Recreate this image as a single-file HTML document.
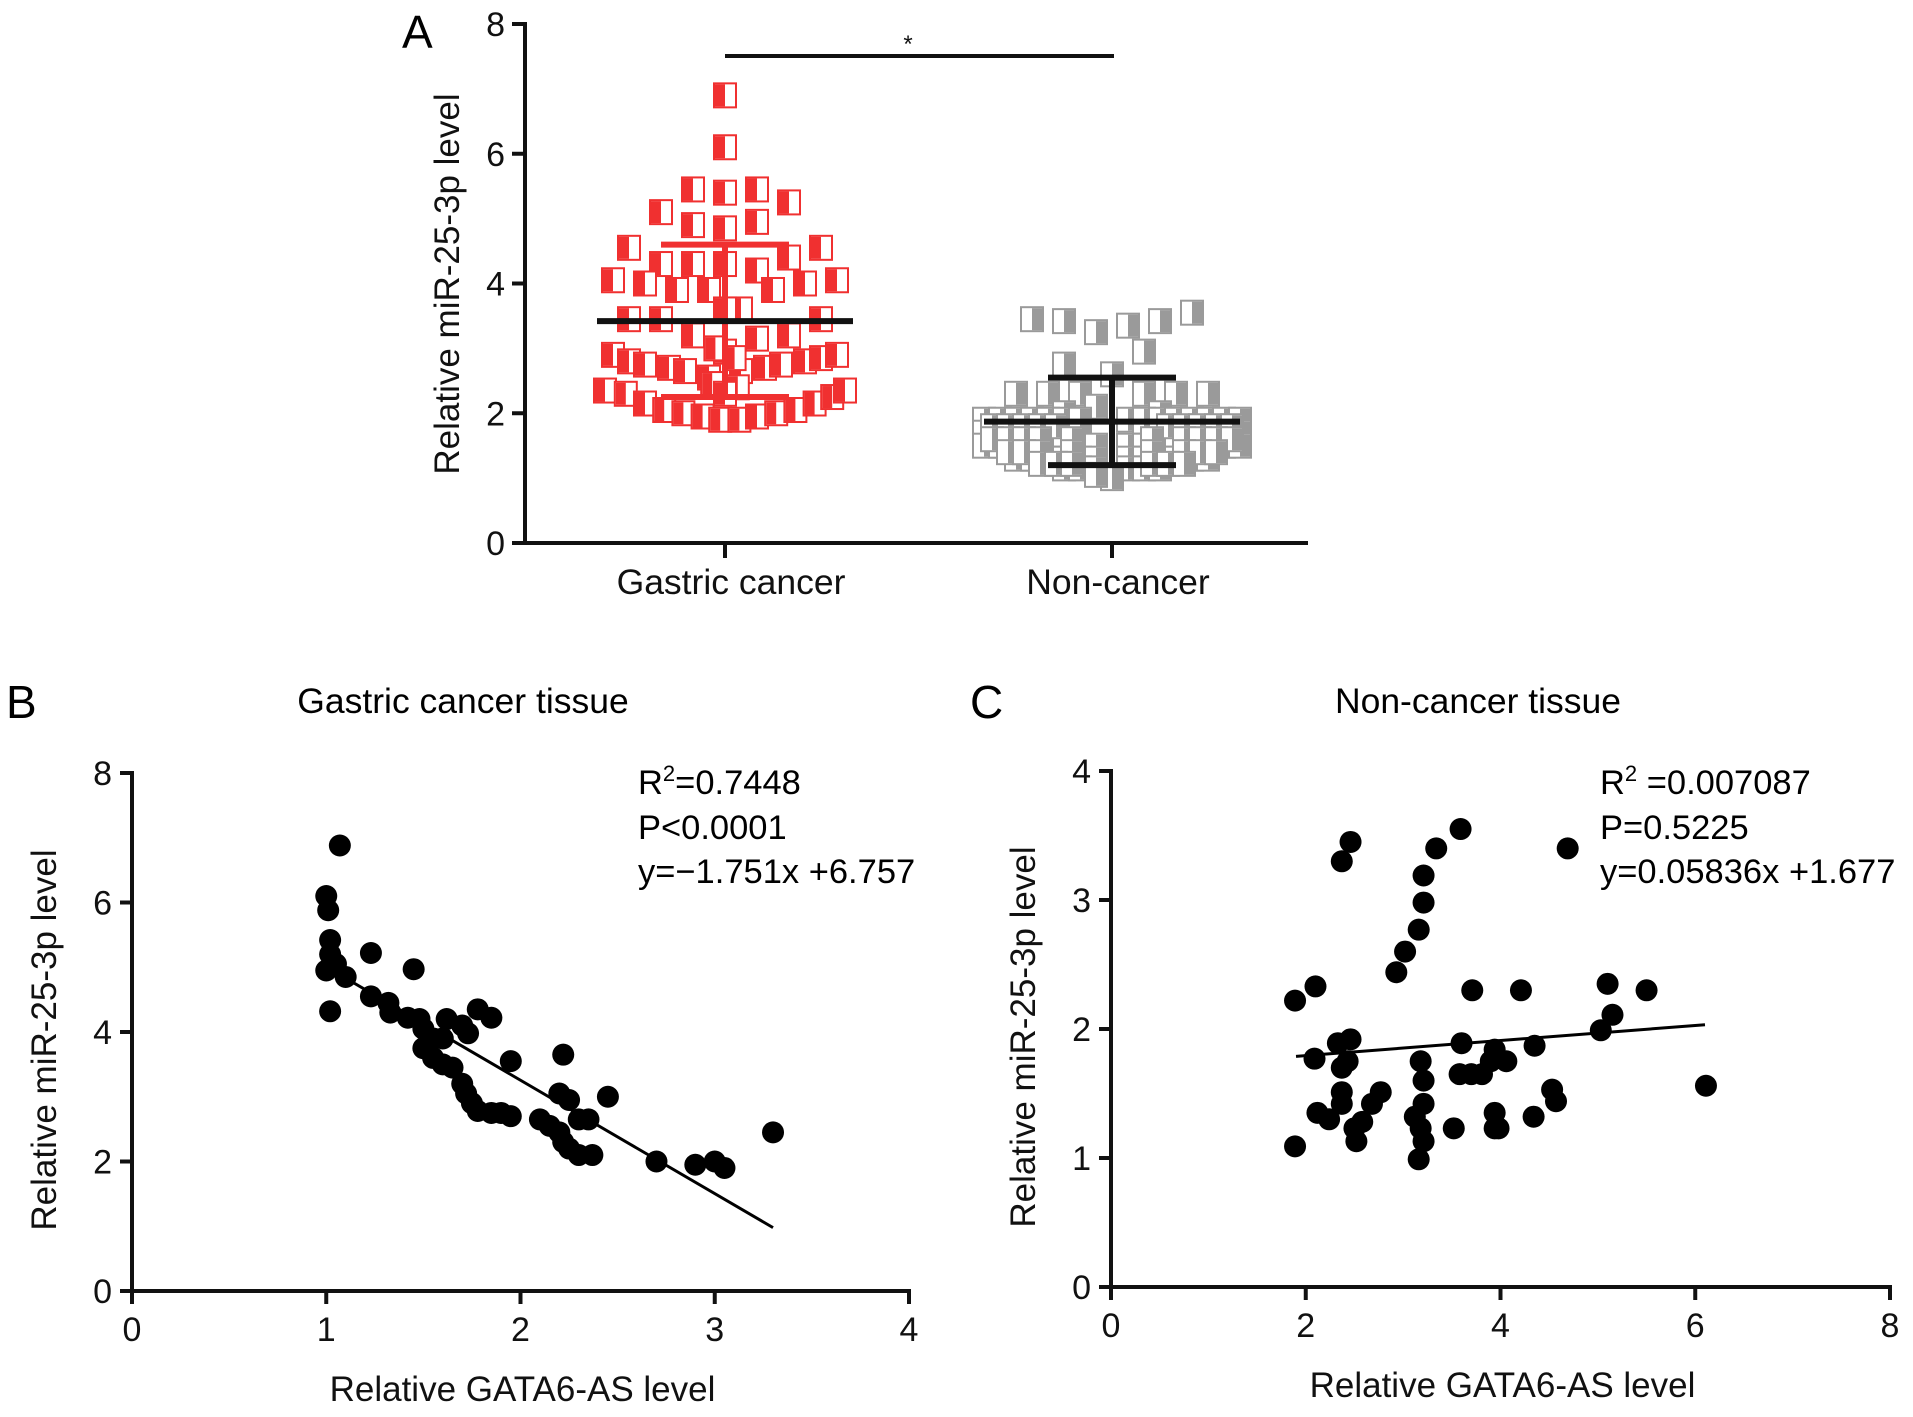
<!DOCTYPE html>
<html><head><meta charset="utf-8"><style>
html,body{margin:0;padding:0;background:#fff;}
svg{display:block;font-family:"Liberation Sans",Arial,sans-serif;}
</style></head><body>
<svg id="fig" width="1913" height="1417" viewBox="0 0 1913 1417" xmlns="http://www.w3.org/2000/svg">
<text x="402" y="48" font-size="46">A</text>
<text x="6" y="718" font-size="46">B</text>
<text x="970" y="718" font-size="46">C</text>
<text x="463" y="713" font-size="35.5" text-anchor="middle">Gastric cancer tissue</text>
<text x="1478" y="713" font-size="35.5" text-anchor="middle">Non-cancer tissue</text>
<g font-size="34.5">
<text x="638" y="794">R<tspan font-size="22" dy="-13">2</tspan><tspan dy="13">=0.7448</tspan></text>
<text x="638" y="839">P&lt;0.0001</text>
<text x="638" y="883">y=−1.751x +6.757</text>
</g>
<g font-size="34.5">
<text x="1600" y="794">R<tspan font-size="22" dy="-13">2</tspan><tspan dy="13"> =0.007087</tspan></text>
<text x="1600" y="839">P=0.5225</text>
<text x="1600" y="883">y=0.05836x +1.677</text>
</g>
</svg>
<script>
// Panel A data
const aCategories = ["Gastric cancer", "Non-cancer"];
const aYTicks = [0, 2, 4, 6, 8];
const gcValues = [6.9,6.1,5.45,5.4,5.45,5.25,5.1,4.9,4.85,4.95,4.55,4.55,4.3,4.3,4.3,4.2,4.4,4.05,4.0,3.9,3.9,3.6,3.9,4.0,4.05,3.45,3.45,3.2,3.6,3.15,3.2,3.45,2.9,2.8,2.75,2.7,2.65,2.55,2.95,2.65,2.7,2.75,2.8,2.85,2.9,2.35,2.3,2.15,2.05,2.0,1.95,1.9,1.9,1.95,2.0,2.05,2.15,2.25,2.35,2.45,2.4,2.3,3.0,2.85];
const gcSlots = [0,0,-2,0,2,4,-4,-2,0,2,-6,6,-4,-2,0,2,4,-7,-5,-3,-1,1,3,5,7,-6,-4,-2,0,2,4,6,-7,-6,-5,-3.5,-2.5,-1,0,1,2.5,3.5,5,6,7,-7.5,-6.2,-5,-3.8,-2.6,-1.4,-0.3,0.9,2,3.2,4.4,5.6,6.7,7.5,-0.8,0.8,0,-0.6,0.6];
const ncValues = [3.45,3.42,3.25,3.35,3.42,3.55,2.95,2.75,2.6,2.3,2.3,2.3,2.3,2.3,2.3,2.1,2.0,2.0,1.9,1.9,1.9,1.9,1.9,1.9,1.9,1.9,1.9,1.9,1.9,1.9,1.9,1.9,1.9,1.7,1.7,1.7,1.7,1.7,1.7,1.7,1.7,1.7,1.7,1.7,1.7,1.7,1.7,1.5,1.5,1.5,1.5,1.5,1.5,1.5,1.5,1.5,1.5,1.5,1.5,1.5,1.5,1.5,1.3,1.3,1.3,1.3,1.3,1.3,1.3,1.3,1.3,1.3,1.3,1.3,1.15,1.15,1.15,1.15,1.15,1.15,1.0,1.05,1.8,1.8,1.8,1.8,1.8,1.8,1.8,1.8,1.8,1.8,1.6,1.6,1.6,1.6,1.6,1.6,1.6,1.6,1.6,1.6,1.4,1.4,1.4,1.4,1.4,1.4,1.4,1.4,1.22,1.22,1.22,1.22,1.22,1.22];
const ncSlots = [-5,-3,-1,1,3,5,2,-3,0,-6,-4,-2,2,4,6,-1,-3,3,-8,-7,-6,-5,-4,-3,-2,1,2,3,4,5,6,7,8,-8,-7,-6,-5,-4,-3,-2,2,3,4,5,6,7,8,-8,-7,-6,-5,-4,-3,-1,1,2,3,4,5,6,7,8,-6,-5,-4,-3,-2,-1,1,2,3,4,5,6,-3,-2,-1,1,2,3,0,-1,-7.5,-6.5,-5.5,-4.5,-3.5,3.5,4.5,5.5,6.5,7.5,-7.5,-6.5,-5.5,-4.5,-2.5,2.5,4.5,5.5,6.5,7.5,-6.5,-5.5,-4.5,-2.5,2.5,4.5,5.5,6.5,-4.5,-3.5,-2.5,2.5,3.5,4.5];
const gcMean = 3.42, gcSdHi = 4.6, gcSdLo = 2.25;
const ncMean = 1.87, ncSdHi = 2.55, ncSdLo = 1.2;
// Panel B data
const bXTicks = [0,1,2,3,4];
const bYTicks = [0,2,4,6,8];
const bX = [1.07,1.0,1.01,1.02,1.02,1.0,1.05,1.1,1.02,1.23,1.45,1.23,1.32,1.33,1.42,1.48,1.5,1.55,1.5,1.6,1.62,1.7,1.73,1.78,1.85,1.55,1.6,1.65,1.7,1.72,1.75,1.78,1.85,1.9,1.95,1.95,2.1,2.15,2.2,2.22,2.25,2.3,2.37,2.3,2.35,2.2,2.25,2.22,2.45,2.7,2.9,3.0,3.05,3.3];
const bY = [6.88,6.1,5.88,5.42,5.2,4.95,5.05,4.85,4.32,5.22,4.97,4.55,4.45,4.3,4.22,4.2,4.05,3.9,3.75,3.9,4.2,4.1,3.98,4.35,4.22,3.6,3.5,3.45,3.2,3.05,2.9,2.78,2.75,2.75,2.7,3.55,2.65,2.55,2.45,2.3,2.2,2.1,2.1,2.65,2.65,3.05,2.95,3.65,3.0,2.0,1.95,2.0,1.9,2.45];
const bFit = [-1.751, 6.757], bFitRange = [1.0, 3.3];
// Panel C data
const cXTicks = [0,2,4,6,8];
const cYTicks = [0,1,2,3,4];
const cX = [1.89,1.89,2.1,2.09,2.12,2.24,2.37,2.46,2.33,2.46,2.37,2.43,2.37,2.37,2.5,2.52,2.58,2.68,2.77,2.93,3.02,3.16,3.21,3.21,3.34,3.59,4.69,3.18,3.21,3.21,3.12,3.18,3.21,3.16,3.52,3.58,3.6,3.7,3.81,3.9,3.94,4.06,3.94,3.94,3.98,3.71,4.21,4.34,4.35,4.53,4.57,5.03,5.15,5.1,5.5,6.11];
const cY = [1.09,2.22,2.33,1.77,1.35,1.3,3.3,3.45,1.89,1.92,1.7,1.75,1.51,1.42,1.23,1.13,1.28,1.42,1.51,2.44,2.6,2.77,2.98,3.19,3.4,3.55,3.4,1.75,1.6,1.42,1.32,1.23,1.13,0.99,1.23,1.65,1.89,1.65,1.65,1.75,1.84,1.75,1.35,1.23,1.23,2.3,2.3,1.32,1.87,1.53,1.44,1.99,2.11,2.35,2.3,1.56];
const cFit = [0.05836, 1.677], cFitRange = [1.9, 6.1];

const NS = "http://www.w3.org/2000/svg";
const svg = document.getElementById('fig');
function mk(tag, attrs, parent) {
  const e = document.createElementNS(NS, tag);
  for (const k in attrs) e.setAttribute(k, attrs[k]);
  (parent || svg).appendChild(e);
  return e;
}
function lin(d0, d1, r0, r1) { return v => r0 + (v - d0) * (r1 - r0) / (d1 - d0); }

// ---------- Panel A ----------
const aY = lin(0, 8, 543, 24);
const aCatX = [725, 1112];
const slotW = 16;
const gA = mk('g', {});


function squares(vals, slots, cx, color, fillLeft, name) {
  const g = mk('g', {}, gA);
  
  
  vals.forEach((v, i) => {
    const x = cx + slots[i] * slotW - 11, y = aY(v) - 12;
    const s = mk('g', {}, g);
    
    
    mk('rect', {x: x, y: y, width: 22, height: 24, fill: '#fff', stroke: color, 'stroke-width': 2}, s);
    mk('rect', {x: fillLeft ? x + 1 : x + 11, y: y + 1, width: 10, height: 22, fill: color}, s);
  });
}
squares(gcValues, gcSlots, aCatX[0], '#f03030', true, 'gastric-cancer-points');
squares(ncValues, ncSlots, aCatX[1], '#9a9a9a', false, 'non-cancer-points');
function errbar(cx, m, hi, lo, color, halfMean, halfCap, name) {
  const g = mk('g', {stroke: color, 'stroke-width': 6, fill: 'none'}, gA);
  
  
  mk('line', {x1: cx, x2: cx, y1: aY(hi), y2: aY(lo)}, g);
  mk('line', {x1: cx - halfCap, x2: cx + halfCap, y1: aY(hi), y2: aY(hi)}, g);
  mk('line', {x1: cx - halfCap, x2: cx + halfCap, y1: aY(lo), y2: aY(lo)}, g);
  mk('line', {x1: cx - halfMean, x2: cx + halfMean, y1: aY(m), y2: aY(m), stroke: '#111'}, g);
}
errbar(aCatX[0], gcMean, gcSdHi, gcSdLo, '#f03030', 128, 64, 'gastric-mean-sd');
errbar(aCatX[1], ncMean, ncSdHi, ncSdLo, '#111', 128, 64, 'non-cancer-mean-sd');
// axes A
const axA = mk('g', {stroke: '#111', 'stroke-width': 4}, gA);


mk('line', {x1: 525, x2: 525, y1: 22, y2: 545}, axA);
mk('line', {x1: 523, x2: 1308, y1: 543, y2: 543}, axA);
aYTicks.forEach(t => {
  mk('line', {x1: 512, x2: 525, y1: aY(t), y2: aY(t)}, axA);
  const tx = mk('text', {x: 505, y: aY(t) + 12, 'font-size': 34, 'text-anchor': 'end', stroke: 'none', fill: '#111'}, gA);
  
  
  tx.textContent = t;
});
aCategories.forEach((c, i) => {
  mk('line', {x1: aCatX[i], x2: aCatX[i], y1: 543, y2: 558}, axA);
  const tx = mk('text', {x: aCatX[i] + 6, y: 594, 'font-size': 35.5, 'text-anchor': 'middle', fill: '#111'}, gA);
  
  
  tx.textContent = c;
});
const yta = mk('text', {transform: 'translate(459,284) rotate(-90)', 'font-size': 35, 'text-anchor': 'middle', fill: '#111'}, gA);


yta.textContent = 'Relative miR-25-3p level';
const sig = mk('line', {x1: aCatX[0], x2: aCatX[1] + 2, y1: 56, y2: 56, stroke: '#111', 'stroke-width': 4}, gA);


const star = mk('text', {x: 908, y: 52, 'font-size': 24, 'text-anchor': 'middle', fill: '#111'}, gA);


star.textContent = '*';

// ---------- Scatter panels ----------
function scatter(name, x0, x1, y0, y1, xt, yt, xs, ys, fit, fr, px0, px1, py0, py1) {
  const X = lin(x0, x1, px0, px1), Y = lin(y0, y1, py0, py1);
  const g = mk('g', {});
  
  
  const pts = mk('g', {fill: '#000'}, g);
  
  
  xs.forEach((v, i) => {
    const c = mk('circle', {cx: X(v), cy: Y(ys[i]), r: 11}, pts);
    
    
  });
  const fl = mk('line', {x1: X(fr[0]), y1: Y(fit[0] * fr[0] + fit[1]), x2: X(fr[1]), y2: Y(fit[0] * fr[1] + fit[1]), stroke: '#000', 'stroke-width': 3}, g);
  
  
  const ax = mk('g', {stroke: '#111', 'stroke-width': 4}, g);
  
  
  mk('line', {x1: px0, x2: px0, y1: py1 - 2, y2: py0 + 2}, ax);
  mk('line', {x1: px0 - 2, x2: px1 + 2, y1: py0, y2: py0}, ax);
  yt.forEach(t => {
    mk('line', {x1: px0 - 12, x2: px0, y1: Y(t), y2: Y(t)}, ax);
    const tx = mk('text', {x: px0 - 20, y: Y(t) + 12, 'font-size': 34, 'text-anchor': 'end', fill: '#111'}, g);
    
    
    tx.textContent = t;
  });
  xt.forEach(t => {
    mk('line', {x1: X(t), x2: X(t), y1: py0, y2: py0 + 13}, ax);
    const tx = mk('text', {x: X(t), y: py0 + 50, 'font-size': 34, 'text-anchor': 'middle', fill: '#111'}, g);
    
    
    tx.textContent = t;
  });
  const xtt = mk('text', {x: (px0 + px1) / 2 + 2, y: py0 + 110, 'font-size': 35, 'text-anchor': 'middle', fill: '#111'}, g);
  
  
  xtt.textContent = 'Relative GATA6-AS level';
  const ytt = mk('text', {transform: 'translate(' + (px0 - 76) + ',' + ((py0 + py1) / 2 + 8) + ') rotate(-90)', 'font-size': 35, 'text-anchor': 'middle', fill: '#111'}, g);
  
  
  ytt.textContent = 'Relative miR-25-3p level';
}
scatter('panel-b-chart', 0, 4, 0, 8, bXTicks, bYTicks, bX, bY, bFit, bFitRange, 132, 909, 1291, 773);
scatter('panel-c-chart', 0, 8, 0, 4, cXTicks, cYTicks, cX, cY, cFit, cFitRange, 1111, 1890, 1287, 771);
</script>
</body></html>
